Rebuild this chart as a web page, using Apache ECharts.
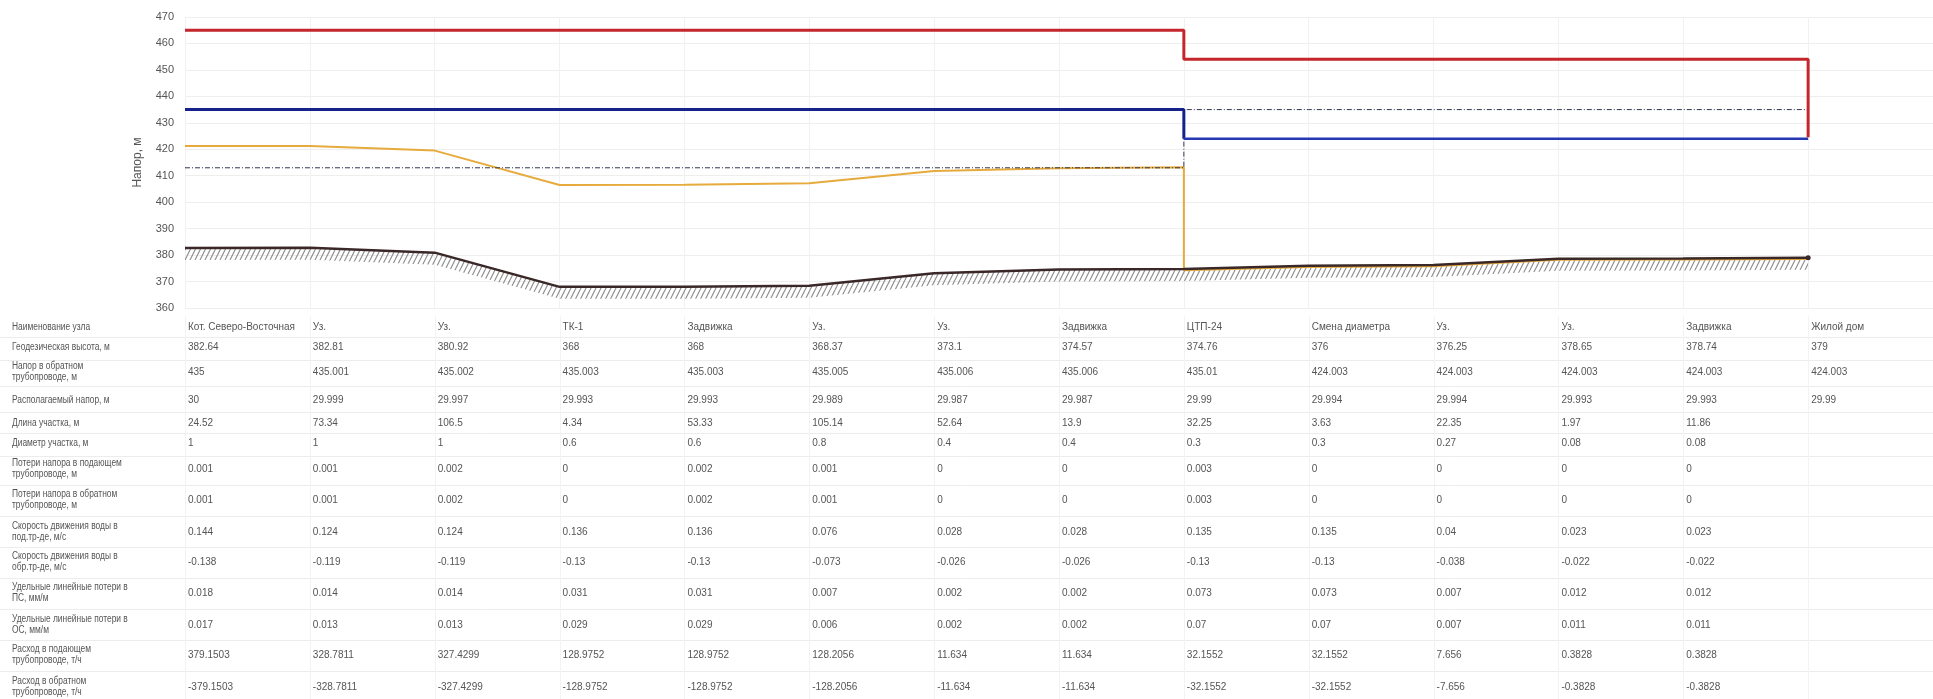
<!DOCTYPE html>
<html><head><meta charset="utf-8">
<script src="https://cdn.jsdelivr.net/npm/echarts@6/dist/echarts.min.js"></script>
<style>html,body{margin:0;padding:0;background:#fff;}#c{width:1933px;height:699px;}</style>
</head><body><div id="c"></div>
<script>
// ---------- DATA ----------
const nodeNames = ['Кот. Северо-Восточная','Уз.','Уз.','ТК-1','Задвижка','Уз.','Уз.','Задвижка','ЦТП-24','Смена диаметра','Уз.','Уз.','Задвижка','Жилой дом'];
const geodeticElev = [382.64,382.81,380.92,368,368,368.37,373.1,374.57,374.76,376,376.25,378.65,378.74,379];
const returnHead = [435,435.001,435.002,435.003,435.003,435.005,435.006,435.006,435.01,424.003,424.003,424.003,424.003,424.003];
const availHead = [30,29.999,29.997,29.993,29.993,29.989,29.987,29.987,29.99,29.994,29.994,29.993,29.993,29.99];
const segLength = [24.52,73.34,106.5,4.34,53.33,105.14,52.64,13.9,32.25,3.63,22.35,1.97,11.86];
const segDiam = [1,1,1,0.6,0.6,0.8,0.4,0.4,0.3,0.3,0.27,0.08,0.08];
const lossSupply = [0.001,0.001,0.002,0,0.002,0.001,0,0,0.003,0,0,0,0];
const lossReturn = [0.001,0.001,0.002,0,0.002,0.001,0,0,0.003,0,0,0,0];
const velSupply = [0.144,0.124,0.124,0.136,0.136,0.076,0.028,0.028,0.135,0.135,0.04,0.023,0.023];
const velReturn = [-0.138,-0.119,-0.119,-0.13,-0.13,-0.073,-0.026,-0.026,-0.13,-0.13,-0.038,-0.022,-0.022];
const specLossSupply = [0.018,0.014,0.014,0.031,0.031,0.007,0.002,0.002,0.073,0.073,0.007,0.012,0.012];
const specLossReturn = [0.017,0.013,0.013,0.029,0.029,0.006,0.002,0.002,0.07,0.07,0.007,0.011,0.011];
const flowSupply = [379.1503,328.7811,327.4299,128.9752,128.9752,128.2056,11.634,11.634,32.1552,32.1552,7.656,0.3828,0.3828];
const flowReturn = [-379.1503,-328.7811,-327.4299,-128.9752,-128.9752,-128.2056,-11.634,-11.634,-32.1552,-32.1552,-7.656,-0.3828,-0.3828];

// chart lines; A = nodes 0..8 (before ЦТП), B = nodes 8..13 (after ЦТП)
const supplyHeadA = [465,465,465,465,465,465,465,465,465];
const supplyHeadB = [454,454,454,454,454,454];
const supplyEndDrop = 424.5;
const returnHeadA = [435,435.001,435.002,435.003,435.003,435.005,435.006,435.006,435.01];
const returnHeadB = [424.003,424.003,424.003,424.003,424.003,424.003];
const staticHeadA = [413,413,413,413,413,413,413,413,413];
const staticHeadB = [435,435,435,435,435,435];
const yellowHeadA = [421.2,421.2,419.5,406.5,406.6,407.2,411.8,412.8,413.2];
const yellowHeadB = [374.3,375.5,375.8,378.2,378.3,378.5];
const yTicks = {min:360, max:470, interval:10};

const rowLabels = ['Наименование узла','Геодезическая высота, м','Напор в обратном\nтрубопроводе, м','Располагаемый напор, м','Длина участка, м','Диаметр участка, м','Потери напора в подающем\nтрубопроводе, м','Потери напора в обратном\nтрубопроводе, м','Скорость движения воды в\nпод.тр-де, м/с','Скорость движения воды в\nобр.тр-де, м/с','Удельные линейные потери в\nПС, мм/м','Удельные линейные потери в\nОС, мм/м','Расход в подающем\nтрубопроводе, т/ч','Расход в обратном\nтрубопроводе, т/ч'];
const rowValues = [nodeNames, geodeticElev, returnHead, availHead, segLength, segDiam, lossSupply, lossReturn, velSupply, velReturn, specLossSupply, specLossReturn, flowSupply, flowReturn];

// ---------- LAYOUT ----------
const rowY = [327,347,372,400,423,443,469,500,532,562,593,625,655,687];
const FONT = '"Liberation Sans", Arial, sans-serif';

function seg(arr, start){ return arr.map((v,i)=>[start+i, v]); }

// hatch pattern
const pat = document.createElement('canvas');
pat.width = 5; pat.height = 10;
(function(){
  const g = pat.getContext('2d');
  g.strokeStyle = '#8e8e8e'; g.lineWidth = 1.2;
  g.beginPath();
  g.moveTo(0,10); g.lineTo(5,0);
  g.moveTo(-5,10); g.lineTo(0,0);
  g.moveTo(5,10); g.lineTo(10,0);
  g.stroke();
})();

const chart = echarts.init(document.getElementById('c'), null, {renderer:'canvas'});

const supplyPts = seg(supplyHeadA,0).concat(seg(supplyHeadB,8)).concat([[13, supplyEndDrop]]);
const returnPtsA = seg(returnHeadA,0).concat([[8, returnHeadB[0]]]);
const returnPtsB = seg(returnHeadB,8);
const staticPts = seg(staticHeadA,0).concat(seg(staticHeadB,8));
const yellowPts = seg(yellowHeadA,0).concat(seg(yellowHeadB,8));
const groundPts = geodeticElev.map((v,i)=> i===geodeticElev.length-1 ? {value:[i,v], symbol:'circle', symbolSize:5} : {value:[i,v], symbol:'none'});

chart.setOption({
  animation:false,
  grid:{left:185, top:17, width:1757, height:291},
  xAxis:{type:'value', min:0, max:14, interval:1,
    axisLine:{show:false}, axisTick:{show:false}, axisLabel:{show:false},
    splitLine:{show:true, lineStyle:{color:'#f1f1f1', width:1}}},
  yAxis:{type:'value', min:yTicks.min, max:yTicks.max, interval:yTicks.interval,
    name:'Напор, м', nameLocation:'middle', nameGap:41,
    nameTextStyle:{color:'#555', fontSize:12, fontFamily:FONT},
    axisLine:{show:false}, axisTick:{show:false},
    axisLabel:{color:'#555', fontSize:11, fontFamily:FONT, margin:11},
    splitLine:{lineStyle:{color:'#eeeeee', width:1}}},
  series:[
    {type:'custom', name:'hatch', z:1,
      data: geodeticElev.map((v,i)=>[i,v]),
      renderItem:function(params, api){
        if (params.dataIndex !== 0) return null;
        const top = geodeticElev.map((v,i)=>api.coord([i,v]));
        const bottom = top.slice().reverse().map(p=>[p[0], p[1]+12]);
        return {type:'polygon', shape:{points: top.concat(bottom)},
          style:{fill:{image:pat, repeat:'repeat'}, stroke:null}};
      }},
    {type:'line', name:'yellow', data:yellowPts, symbol:'none', z:3,
      lineStyle:{color:'#e6ab3c', width:2}},
    {type:'line', name:'ground', data:groundPts, showSymbol:true, z:4,
      itemStyle:{color:'#3a2828'}, lineStyle:{color:'#3a2828', width:2.5}},
    {type:'line', name:'static', data:staticPts, symbol:'none', z:5,
      lineStyle:{color:'#2f3652', width:1, type:[5,2,1,2]}},
    {type:'line', name:'return', data:returnPtsA, symbol:'none', z:6,
      lineStyle:{color:'#15228a', width:3}},
    {type:'line', name:'return2', data:returnPtsB, symbol:'none', z:6,
      lineStyle:{color:'#2538b2', width:2.5}},
    {type:'line', name:'supply', data:supplyPts, symbol:'none', z:7,
      lineStyle:{color:'#c4262b', width:3}}
  ]
});

// ---------- TABLE ----------
const colX = nodeNames.map((_,i)=>chart.convertToPixel({xAxisIndex:0}, i));
const graphics = [];
for (let r=0; r<rowY.length-1; r++){
  const y = Math.round((rowY[r]+rowY[r+1])/2)+0.5;
  graphics.push({type:'line', shape:{x1:0, y1:y, x2:1933, y2:y}, style:{stroke:'#ececec', lineWidth:1}, silent:true});
}
colX.forEach(x=>{
  graphics.push({type:'line', shape:{x1:Math.round(x)+0.5, y1:316, x2:Math.round(x)+0.5, y2:699}, style:{stroke:'#f3f3f3', lineWidth:1}, silent:true});
});
rowLabels.forEach((lab,r)=>{
  graphics.push({type:'text', x:12, y:rowY[r], scaleX:0.84, scaleY:1,
    style:{text:lab, x:0, y:0, fill:'#555', fontSize:10, fontFamily:FONT, lineHeight:11, verticalAlign:'middle', align:'left'}, silent:true});
  rowValues[r].forEach((v,i)=>{
    graphics.push({type:'text', style:{text:String(v), x:colX[i]+3, y:rowY[r], fill:'#555', fontSize:10, fontFamily:FONT, verticalAlign:'middle', align:'left'}, silent:true});
  });
});
chart.setOption({graphic:graphics});
</script></body></html>
